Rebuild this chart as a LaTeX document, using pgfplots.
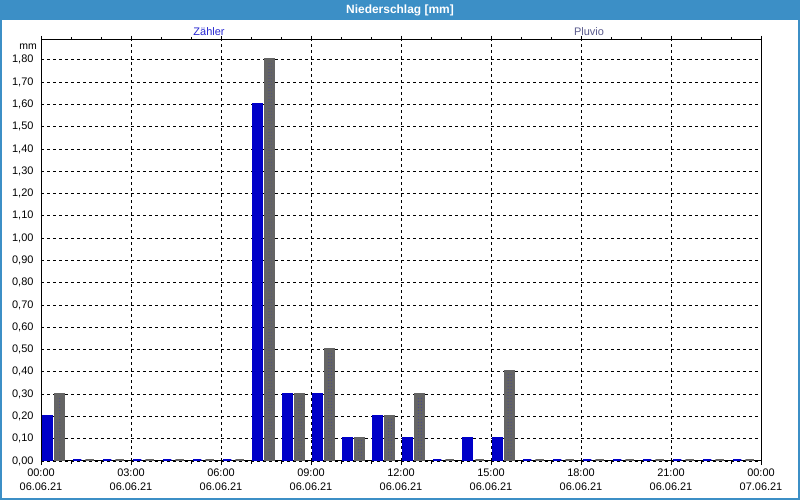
\documentclass[border=0pt]{standalone}
\usepackage{pgfplots}
\pgfplotsset{compat=1.18}
\usepackage{pgfplotstable}
\usepackage{fontspec}
\setmainfont{Liberation Sans}
\usetikzlibrary{patterns}
\definecolor{titlebar}{RGB}{60,143,198}
\definecolor{zblue}{RGB}{0,0,200}
\definecolor{pgray}{RGB}{100,100,100}
\definecolor{zlabel}{RGB}{40,40,210}
\definecolor{plabel}{RGB}{90,90,140}
\definecolor{pdots}{RGB}{70,70,150}

\pgfplotstableread{
h z p
0 0.20 0.30
1 0 0
2 0 0
3 0 0
4 0 0
5 0 0
6 0 0
7 1.60 1.80
8 0.30 0.30
9 0.30 0.50
10 0.10 0.10
11 0.20 0.20
12 0.10 0.30
13 0 0
14 0.10 0
15 0.10 0.40
16 0 0
17 0 0
18 0 0
19 0 0
20 0 0
21 0 0
22 0 0
23 0 0
}\data

\begin{document}
\begin{tikzpicture}[x=1bp,y=1bp]
\path[use as bounding box] (0,0) rectangle (800,500);
\fill[white] (0,0) rectangle (800,500);
\fill[titlebar] (0,480) rectangle (800,500);
\draw[titlebar, line width=2bp] (1,1) rectangle (799,499);
\node[white, font=\bfseries\fontsize{12}{14}\selectfont] at (400,490) {Niederschlag [mm]};
\node[zlabel, font=\fontsize{11}{13}\selectfont] at (209,468) {Zähler};
\node[plabel, font=\fontsize{11}{13}\selectfont] at (589,468) {Pluvio};
\node[anchor=east, inner sep=0pt, font=\fontsize{10.5}{13}\selectfont] at (37,453) {mm};
\begin{axis}[
  at={(41bp,39bp)}, anchor=south west,
  width=720bp, height=421bp, scale only axis,
  xmin=0, xmax=24, ymin=0, ymax=1.889,
  axis line style={black, line width=1bp},
  xtick={0,3,...,24},
  minor xtick={0,1,...,24},
  xticklabels={{00:00\\06.06.21},{03:00\\06.06.21},{06:00\\06.06.21},{09:00\\06.06.21},{12:00\\06.06.21},{15:00\\06.06.21},{18:00\\06.06.21},{21:00\\06.06.21},{00:00\\07.06.21}},
  xticklabel style={align=center, font=\fontsize{11}{14}\selectfont},
  tick align=outside,
  major tick length=4bp, minor tick length=3bp,
  xtick style={black, line width=0.8bp},
  ytick={0,0.1,...,1.8},
  ytick style={draw=none},
  yticklabel style={font=\fontsize{11}{13}\selectfont},
  /pgf/number format/.cd, fixed, fixed zerofill, precision=2, use comma, assume math mode=true,
  /pgfplots/.cd,
  xmajorgrids, ymajorgrids,
  major grid style={black, dash pattern=on 3bp off 3bp, line width=0.8bp},
]
\addplot[ybar, bar width=0.27, bar shift=0pt, fill=zblue, draw=zblue, line width=3bp]
  table[x expr=\thisrow{h}+0.207, y=z] {\data};
\addplot[ybar, bar width=0.27, bar shift=0pt, fill=pgray, draw=pgray, line width=3bp,
  postaction={pattern=dots, pattern color=pdots}]
  table[x expr=\thisrow{h}+0.625, y=p] {\data};
\end{axis}
\end{tikzpicture}
\end{document}
